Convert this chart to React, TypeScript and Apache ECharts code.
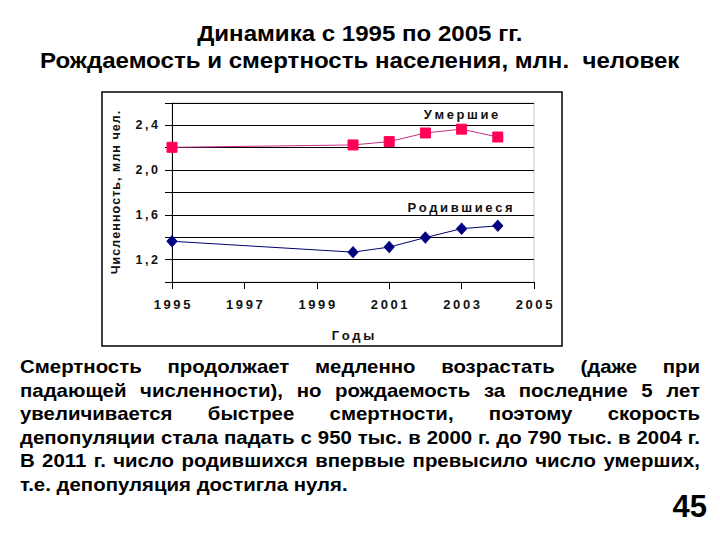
import React, { useEffect, useRef } from "react";
import * as echarts from "echarts";

const years = [1995, 2000, 2001, 2002, 2003, 2004];
const deaths = [2.204, 2.225, 2.255, 2.332, 2.366, 2.296];
const births = [1.364, 1.267, 1.312, 1.397, 1.477, 1.502];
const yLabelValues = [1.2, 1.6, 2.0, 2.4];

const titleLines = [
  "Динамика с 1995 по 2005 гг.",
  "Рождаемость и смертность населения, млн.  человек",
];
const paragraphLines = [
  "Смертность продолжает медленно возрастать (даже при",
  "падающей численности), но рождаемость за последние 5 лет",
  "увеличивается быстрее смертности, поэтому скорость",
  "депопуляции стала падать с 950 тыс. в 2000 г. до 790 тыс. в 2004 г.",
  "В 2011 г. число родившихся впервые превысило число умерших,",
  "т.е. депопуляция достигла нуля.",
];
const pageNumber = "45";

const FONT = '"Liberation Sans", Arial, sans-serif';
const spaced = (s: string) => s.split("").join("\u2009");
const hairSpaced = (s: string) => s.split("").join("\u200A");

export default function App() {
  const ref = useRef<HTMLDivElement>(null);
  useEffect(() => {
    document.body.style.margin = "0";
    if (!ref.current) return;
    const chart = echarts.init(ref.current, undefined, { renderer: "svg" });

    const cv = document.createElement("canvas");
    const ctx = cv.getContext("2d")!;

    // title: horizontally widened text
    const tfs = 22;
    ctx.font = `bold ${tfs}px ${FONT}`;
    const tScale = 640 / ctx.measureText(titleLines[1]).width;
    const titleEls = titleLines.map((t, i) => {
      const w = ctx.measureText(t).width * tScale;
      return {
        type: "text",
        x: 360 - w / 2,
        y: 33 + i * 27,
        scaleX: tScale,
        style: {
          text: t,
          font: `bold ${tfs}px ${FONT}`,
          fill: "#000",
          textAlign: "left",
          textVerticalAlign: "middle",
        },
      };
    });

    // paragraph (justified) via measured word positions
    const fs = 18;
    ctx.font = `bold ${fs}px ${FONT}`;
    const left = 20;
    const right = 700;
    const pScale = Math.min(1.15, (right - left - 4) / ctx.measureText(paragraphLines[3]).width);
    const lineY0 = 367;
    const lineStep = 23.6;
    const paraEls: any[] = [];
    paragraphLines.forEach((line, i) => {
      const y = lineY0 + i * lineStep;
      const words = line.split(/\s+/);
      const last = i === paragraphLines.length - 1;
      const widths = words.map((w) => ctx.measureText(w).width * pScale);
      const total = widths.reduce((a, b) => a + b, 0);
      const gap = last
        ? ctx.measureText(" ").width * pScale
        : (right - left - total) / (words.length - 1);
      let x = left;
      words.forEach((w, k) => {
        paraEls.push({
          type: "text",
          x,
          y,
          scaleX: pScale,
          style: {
            text: w,
            font: `bold ${fs}px ${FONT}`,
            fill: "#000",
            textAlign: "left",
            textVerticalAlign: "middle",
          },
        });
        x += widths[k] + gap;
      });
    });

    chart.setOption({
      animation: false,
      backgroundColor: "#fff",
      grid: {
        left: 172,
        right: 186,
        top: 103,
        bottom: 258,
        show: true,
        borderColor: "#c8c8c8",
        borderWidth: 1,
      },
      xAxis: {
        type: "value",
        min: 1995,
        max: 2005,
        interval: 2,
        name: spaced("Годы"),
        nameLocation: "middle",
        nameGap: 47,
        nameTextStyle: { fontFamily: FONT, fontWeight: "bold", fontSize: 13, color: "#111" },
        axisLine: { show: true, lineStyle: { color: "#000", width: 1 } },
        axisTick: { show: true, inside: false, length: 7, lineStyle: { color: "#000" } },
        axisLabel: {
          margin: 16,
          fontFamily: FONT,
          fontWeight: "bold",
          fontSize: 13,
          color: "#111",
          formatter: (v: number) => spaced(String(v)),
        },
        splitLine: { show: false },
      },
      yAxis: {
        type: "value",
        min: 1.0,
        max: 2.6,
        interval: 0.2,
        name: hairSpaced("Численность, млн чел."),
        nameLocation: "middle",
        nameGap: 50,
        nameRotate: 90,
        nameTextStyle: { fontFamily: FONT, fontWeight: "bold", fontSize: 12.5, color: "#111" },
        axisLine: { show: true, lineStyle: { color: "#000", width: 1 } },
        axisTick: { show: true, inside: false, length: 7, lineStyle: { color: "#000" } },
        axisLabel: {
          margin: 14,
          fontFamily: FONT,
          fontWeight: "bold",
          fontSize: 12.5,
          color: "#111",
          formatter: (v: number) => {
            const r = Math.round(v * 10) / 10;
            return yLabelValues.some((t) => Math.abs(t - r) < 1e-6)
              ? spaced(r.toFixed(1).replace(".", ","))
              : "";
          },
        },
        splitLine: { show: true, lineStyle: { color: "#000", width: 1 } },
      },
      series: [
        {
          name: "Умершие",
          type: "line",
          data: years.map((y, i) => [y, deaths[i]]),
          symbol: "rect",
          symbolSize: 10,
          itemStyle: { color: "#ff0055", borderColor: "#ff0055" },
          lineStyle: { color: "#c0308a", width: 1 },
          z: 3,
        },
        {
          name: "Родившиеся",
          type: "line",
          data: years.map((y, i) => [y, births[i]]),
          symbol: "diamond",
          symbolSize: [10, 11],
          itemStyle: { color: "#000080", borderColor: "#000080" },
          lineStyle: { color: "#000070", width: 1 },
          z: 3,
        },
      ],
      graphic: [
        {
          type: "rect",
          shape: { x: 102, y: 92, width: 460, height: 254 },
          style: { fill: "none", stroke: "#000", lineWidth: 1.5 },
          z: -1,
        },
        {
          type: "text",
          x: 461,
          y: 114,
          style: {
            text: spaced("Умершие"),
            font: `bold 13px ${FONT}`,
            fill: "#111",
            textAlign: "center",
            textVerticalAlign: "middle",
          },
        },
        {
          type: "text",
          x: 460,
          y: 207,
          style: {
            text: spaced("Родившиеся"),
            font: `bold 13px ${FONT}`,
            fill: "#111",
            textAlign: "center",
            textVerticalAlign: "middle",
          },
        },
        ...titleEls,
        ...paraEls,
        {
          type: "text",
          x: 707,
          y: 506,
          style: {
            text: pageNumber,
            font: `bold 31px ${FONT}`,
            fill: "#000",
            textAlign: "right",
            textVerticalAlign: "middle",
          },
        },
      ],
    });
    return () => chart.dispose();
  }, []);
  return <div ref={ref} style={{ width: 720, height: 540 }} />;
}
